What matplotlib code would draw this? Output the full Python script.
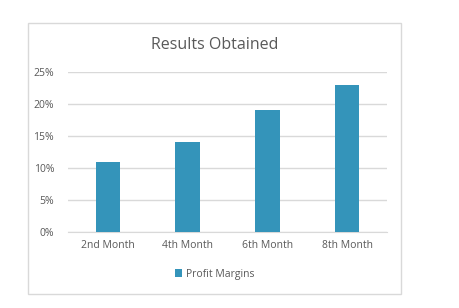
import matplotlib.pyplot as plt
from matplotlib.patches import Rectangle, Patch
from matplotlib.ticker import PercentFormatter

# data
months = ["2nd Month", "4th Month", "6th Month", "8th Month"]
profit_margins = [0.11, 0.14, 0.19, 0.23]
y_ticks = [0, 0.05, 0.10, 0.15, 0.20, 0.25]

bar_color = "#3494BA"
text_color = "#595959"
grid_color = "#D9D9D9"

plt.rcParams["font.family"] = ["Open Sans", "DejaVu Sans"]

fig = plt.figure(figsize=(4.6, 3.08), dpi=100)

# chart area border
fig.patches.append(Rectangle((28 / 460, 1 - 294 / 308), 373 / 460, 271 / 308,
                             transform=fig.transFigure, fill=False,
                             edgecolor=grid_color, linewidth=1))

ax = fig.add_axes([68 / 460, 1 - 232 / 308, 319 / 460, 160 / 308])
x = range(len(months))
ax.bar(x, profit_margins, width=0.31, color=bar_color, zorder=3)

ax.set_xlim(-0.5, len(months) - 0.5)
ax.set_ylim(0, 0.25)
ax.set_yticks(y_ticks)
ax.yaxis.set_major_formatter(PercentFormatter(1.0, decimals=0))
ax.set_xticks(list(x))
ax.set_xticklabels(months)
ax.tick_params(length=0, colors=text_color, labelsize=7.5)
ax.tick_params(axis="y", pad=10)
ax.tick_params(axis="x", pad=6)
ax.grid(axis="y", color=grid_color, linewidth=1, zorder=0)
for side in ["top", "left", "right"]:
    ax.spines[side].set_visible(False)
ax.spines["bottom"].set_color(grid_color)

fig.text(214.5 / 460, 1 - 45 / 308, "Results Obtained", ha="center",
         va="center", fontsize=11.5, color=text_color)

handle = Patch(facecolor=bar_color, edgecolor="none")
fig.legend([handle], ["Profit Margins"], loc="center",
           bbox_to_anchor=(214.5 / 460, 1 - 274 / 308), frameon=False,
           fontsize=7.5, labelcolor=text_color, handlelength=0.7,
           handleheight=0.7, handletextpad=0.4)

fig.savefig("out.png", dpi=100, facecolor="white")
